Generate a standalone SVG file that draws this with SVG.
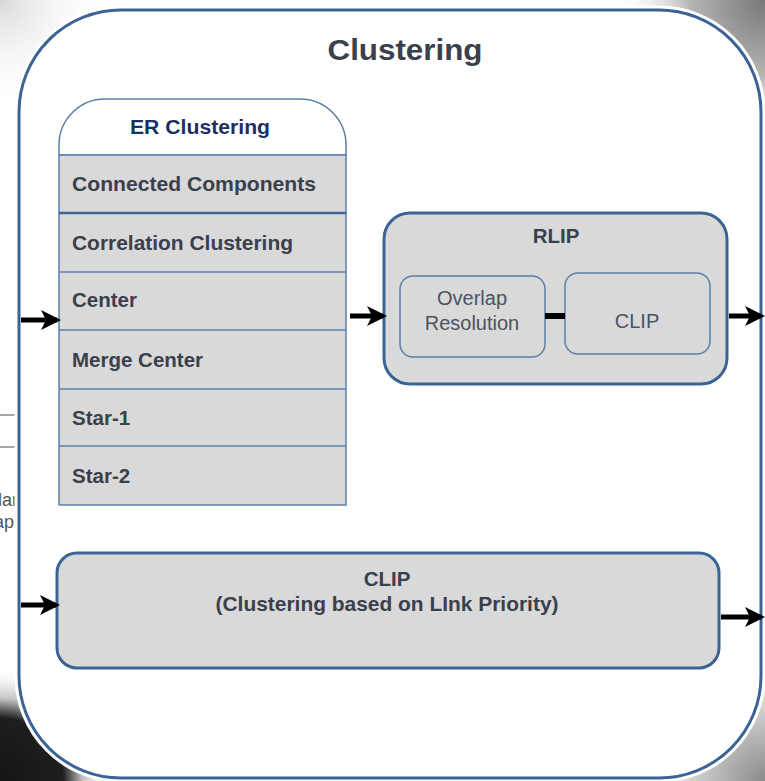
<svg xmlns="http://www.w3.org/2000/svg" width="765" height="781" viewBox="0 0 765 781">
<style>
.box{fill:#d9d9d9;stroke:#3b6495;stroke-width:3}
.thin{fill:#d9d9d9;stroke:#5b80ab;stroke-width:1.5}
.row{font-family:"Liberation Sans",Arial,sans-serif;font-weight:bold;font-size:20.5px;fill:#3a404c}
.bt{font-family:"Liberation Sans",Arial,sans-serif;font-weight:bold;font-size:20.5px;fill:#3a404c;text-anchor:middle}
.rt{font-family:"Liberation Sans",Arial,sans-serif;font-size:20px;fill:#4a5361;text-anchor:middle}
.sep{stroke:#5b80ab;stroke-width:1.5}
.arr{stroke:#000;stroke-width:5;fill:none;marker-end:url(#ah)}
</style>
<defs>
<marker id="ah" markerWidth="4" markerHeight="4" refX="3.2" refY="2" orient="auto" markerUnits="strokeWidth" viewBox="0 0 4 4">
<path d="M0,0 L4,2 L0,4 L1,2 Z" fill="#000"/>
</marker>
<radialGradient id="gTL" cx="0" cy="0" r="110" gradientUnits="userSpaceOnUse">
<stop offset="0" stop-color="#d8d8d8"/><stop offset="1" stop-color="#fff" stop-opacity="0"/>
</radialGradient>
<radialGradient id="gTR" cx="765" cy="0" r="150" gradientUnits="userSpaceOnUse">
<stop offset="0" stop-color="#777"/><stop offset="0.5" stop-color="#b5b5b5"/><stop offset="1" stop-color="#fff" stop-opacity="0"/>
</radialGradient>
<radialGradient id="gBL" cx="0" cy="781" r="115" gradientUnits="userSpaceOnUse">
<stop offset="0" stop-color="#151515"/><stop offset="0.55" stop-color="#1e1e1e"/><stop offset="0.72" stop-color="#c4c4c4"/><stop offset="1" stop-color="#fff" stop-opacity="0"/>
</radialGradient>
<radialGradient id="gBR" cx="765" cy="781" r="140" gradientUnits="userSpaceOnUse">
<stop offset="0" stop-color="#8a8a8a"/><stop offset="0.55" stop-color="#d5d5d5"/><stop offset="1" stop-color="#fff" stop-opacity="0"/>
</radialGradient>
<clipPath id="leftclip"><rect x="0" y="0" width="18" height="781"/></clipPath>
</defs>
<rect width="765" height="781" fill="#fff"/>
<rect width="765" height="781" fill="url(#gTL)"/>
<rect width="765" height="781" fill="url(#gTR)"/>
<rect width="765" height="781" fill="url(#gBL)"/>
<rect width="765" height="781" fill="url(#gBR)"/>
<g clip-path="url(#leftclip)">
<line x1="0" y1="415" x2="20" y2="415" stroke="#888" stroke-width="1.5"/>
<line x1="0" y1="447" x2="20" y2="447" stroke="#888" stroke-width="1.5"/>
<text x="-2" y="506" font-family="Liberation Sans,Arial,sans-serif" font-size="18" fill="#555">lar</text>
<text x="-6" y="528" font-family="Liberation Sans,Arial,sans-serif" font-size="18" fill="#555">apl</text>
</g>
<g id="clustering">
<rect x="19" y="10" width="742" height="768" rx="102" ry="102" fill="#fff" stroke="#fff" stroke-width="9"/>
<rect x="19" y="10" width="742" height="768" rx="102" ry="102" fill="#fff" stroke="#3b6495" stroke-width="3"/>
<text x="405" y="60" class="bt" style="font-size:29px" textLength="155" lengthAdjust="spacingAndGlyphs">Clustering</text>
</g>
<g id="er-clustering">
<path d="M59,155 V145 A46,46 0 0 1 105,99 H300 A46,46 0 0 1 346,145 V155 Z" fill="#fff" stroke="#5b80ab" stroke-width="1.5"/>
<rect x="59" y="155" width="287" height="350" class="thin"/>
<line x1="59" y1="213" x2="346" y2="213" stroke="#3b6495" stroke-width="2.5"/>
<line x1="59" y1="272" x2="346" y2="272" class="sep"/>
<line x1="59" y1="330" x2="346" y2="330" class="sep"/>
<line x1="59" y1="389" x2="346" y2="389" class="sep"/>
<line x1="59" y1="446" x2="346" y2="446" class="sep"/>
<text x="200" y="134" class="bt" style="fill:#1d2f62" textLength="140" lengthAdjust="spacingAndGlyphs">ER Clustering</text>
<text x="72" y="191" class="row" textLength="244" lengthAdjust="spacingAndGlyphs">Connected Components</text>
<text x="72" y="250" class="row" textLength="221" lengthAdjust="spacingAndGlyphs">Correlation Clustering</text>
<text x="72" y="307" class="row">Center</text>
<text x="72" y="367" class="row">Merge Center</text>
<text x="72" y="425" class="row">Star-1</text>
<text x="72" y="483" class="row">Star-2</text>
</g>
<g id="rlip">
<rect x="384" y="213" width="343" height="171" rx="26" class="box"/>
<text x="556" y="243" class="bt">RLIP</text>
</g>
<g id="overlap-resolution">
<rect x="400" y="276" width="145" height="81" rx="13" class="thin"/>
<text x="472" y="305" class="rt">Overlap</text>
<text x="472" y="330" class="rt">Resolution</text>
</g>
<g id="clip-inner">
<rect x="565" y="273" width="145" height="81" rx="13" class="thin"/>
<text x="637" y="328" class="rt">CLIP</text>
</g>
<g id="clip-bottom">
<rect x="57" y="553" width="662" height="115" rx="20" class="box"/>
<text x="387" y="586" class="bt">CLIP</text>
<text x="387" y="611" class="bt" textLength="343" lengthAdjust="spacingAndGlyphs">(Clustering based on LInk Priority)</text>
</g>
<g id="connectors">
<line x1="21" y1="320" x2="57" y2="320" class="arr"/>
<line x1="350" y1="316" x2="383" y2="316" class="arr"/>
<line x1="545" y1="316" x2="565" y2="316" stroke="#000" stroke-width="6"/>
<line x1="729" y1="316" x2="761" y2="316" class="arr"/>
<line x1="21" y1="605" x2="56" y2="605" class="arr"/>
<line x1="721" y1="617" x2="761" y2="617" class="arr"/>
</g>
</svg>
